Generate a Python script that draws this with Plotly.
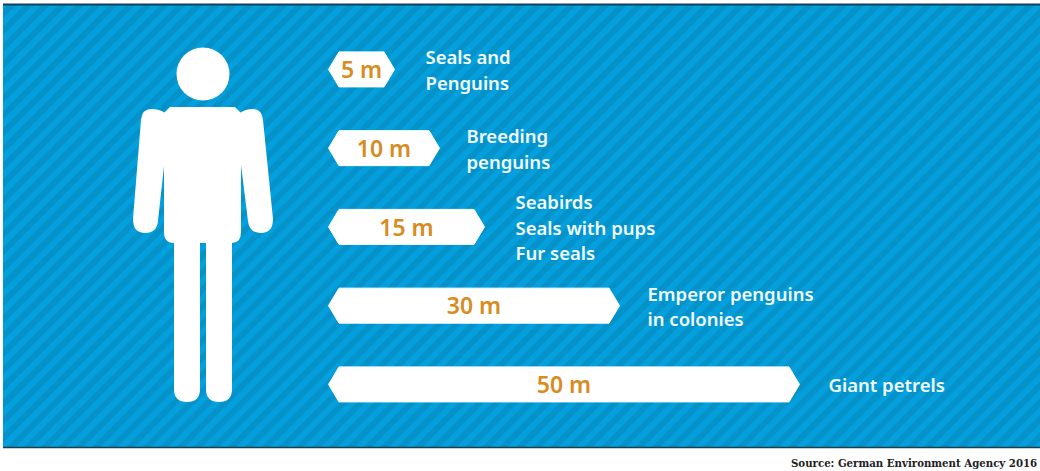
import plotly.graph_objects as go

# --- data ---
distances_m = [5, 10, 15, 30, 50]
distance_labels = ["5 m", "10 m", "15 m", "30 m", "50 m"]
animal_groups = [
    ["Seals and", "Penguins"],
    ["Breeding", "penguins"],
    ["Seabirds", "Seals with pups", "Fur seals"],
    ["Emperor penguins", "in colonies"],
    ["Giant petrels"],
]
source_text = "Source: German Environment Agency 2016"

# --- layout geometry (page pixels) ---
W, H = 1040, 471
PX_PER_M = 9.0
X0_PX = 339.0
ROW0_PX = 69.4
ROW_STEP_PX = 78.75
HALF_BAR_PX = 18.0
TIP_PX = 11.0
LINE_STEP_PX = 25.5
PANEL = (3, 4, 1040, 447)
LABEL_GAPS_PX = [31, 27, 31, 28, 29]
TEXT_DY_PX = 3.0

BLUE = "#03A0DD"
STRIPE = "#0583B6"
ORANGE = "#D98B1E"


def mx(px):
    return (px - X0_PX) / PX_PER_M


def ry(py):
    return (py - ROW0_PX) / ROW_STEP_PX


def px(x):
    return x / W


def py(y):
    return 1 - y / H


def path(cmds):
    out = []
    for c in cmds:
        if isinstance(c, str):
            out.append(c)
        else:
            out.append(f"{px(c[0]):.5f},{py(c[1]):.5f}")
    return " ".join(out)


fig = go.Figure()

# striped panel
fig.add_trace(go.Scatter(
    x=[mx(PANEL[0]), mx(PANEL[2]), mx(PANEL[2]), mx(PANEL[0]), mx(PANEL[0])],
    y=[ry(PANEL[1]), ry(PANEL[1]), ry(PANEL[3]), ry(PANEL[3]), ry(PANEL[1])],
    mode="lines", fill="toself", line=dict(width=0), fillcolor=BLUE,
    fillpattern=dict(shape="/", size=12, solidity=0.5, fgcolor=STRIPE, bgcolor=BLUE),
    hoverinfo="skip",
))

# hexagonal bars
half = (HALF_BAR_PX - 0.5) / ROW_STEP_PX
tip = (TIP_PX - 0.5) / PX_PER_M
for i, v in enumerate(distances_m):
    fig.add_trace(go.Scatter(
        x=[-tip, 0, v, v + tip, v, 0, -tip],
        y=[i, i - half, i - half, i, i + half, i + half, i],
        mode="lines", fill="toself", fillcolor="white",
        line=dict(width=1, color="white"), hoverinfo="skip",
    ))

# value labels
dy = TEXT_DY_PX / ROW_STEP_PX
fig.add_trace(go.Scatter(
    x=[v / 2 for v in distances_m], y=[i + dy for i in range(len(distances_m))],
    mode="text", text=distance_labels, textposition="middle center",
    textfont=dict(family="Noto Sans", size=23, color=ORANGE, weight=600),
    hoverinfo="skip",
))

# animal labels
lx, ly, lt = [], [], []
for i, (v, lines) in enumerate(zip(distances_m, animal_groups)):
    n = len(lines)
    for j, t in enumerate(lines):
        lx.append(v + tip + LABEL_GAPS_PX[i] / PX_PER_M)
        ly.append(i + dy + (j - (n - 1) / 2) * LINE_STEP_PX / ROW_STEP_PX)
        lt.append(t)
fig.add_trace(go.Scatter(
    x=lx, y=ly, mode="text", text=lt, textposition="middle right",
    textfont=dict(family="Noto Sans", size=18.5, color="#F2FAFD", weight=600),
    hoverinfo="skip",
))

shapes = [
    dict(type="line", xref="paper", yref="paper", x0=px(3), x1=1, y0=py(4.5), y1=py(4.5),
         line=dict(color="#10405F", width=2), layer="above"),
    dict(type="line", xref="paper", yref="paper", x0=px(3), x1=1, y0=py(447.5), y1=py(447.5),
         line=dict(color="#1B3F52", width=1.5), layer="above"),
    dict(type="circle", xref="paper", yref="paper", x0=px(176.5), x1=px(229.5), y0=py(47.5), y1=py(100.5),
         fillcolor="white", line=dict(width=0), layer="above"),
]

# pictogram: torso with legs, and arms
torso = ["M", (170, 107), "L", (235, 107), "L", (241, 113), "L", (241, 232), "Q", (241, 243), (232, 243),
         "L", (232, 389), "Q", (232, 402), (219, 402), "Q", (206, 402), (206, 389),
         "L", (206, 243), "L", (200, 243), "L", (200, 389), "Q", (200, 402), (187, 402),
         "Q", (174, 402), (174, 389), "L", (174, 243), "Q", (164, 243), (164, 232),
         "L", (164, 113), "Z"]
larm = ["M", (151, 109), "Q", (142, 109), (141, 120), "L", (133, 219), "Q", (133, 233), (145, 233),
        "Q", (157, 233), (158, 221), "L", (165, 157), "L", (165, 113), "Q", (160, 109), (151, 109), "Z"]
rarm = ["M", (253, 109), "Q", (262, 109), (263, 120), "L", (273, 219), "Q", (273, 233), (261, 233),
        "Q", (249, 233), (248, 221), "L", (240, 157), "L", (240, 113), "Q", (245, 109), (253, 109), "Z"]
for p in (torso, larm, rarm):
    shapes.append(dict(type="path", xref="paper", yref="paper", path=path(p),
                       fillcolor="white", line=dict(width=0), layer="above"))

fig.update_layout(
    width=W, height=H, margin=dict(l=0, r=0, t=0, b=0),
    paper_bgcolor="white", plot_bgcolor="white", showlegend=False,
    xaxis=dict(range=[mx(0), mx(W)], visible=False, fixedrange=True),
    yaxis=dict(range=[ry(H), ry(0)], visible=False, fixedrange=True),
    shapes=shapes,
    annotations=[dict(
        text=source_text, xref="paper", yref="paper", x=px(1039), y=py(463),
        xanchor="right", yanchor="middle", showarrow=False,
        font=dict(family="DejaVu Serif", size=10.2, color="#222222", weight=700),
    )],
)
fig.write_html(
    "out.html", config=dict(displayModeBar=False),
    post_script="document.documentElement.style.overflow='hidden';document.body.style.margin='0';",
)
